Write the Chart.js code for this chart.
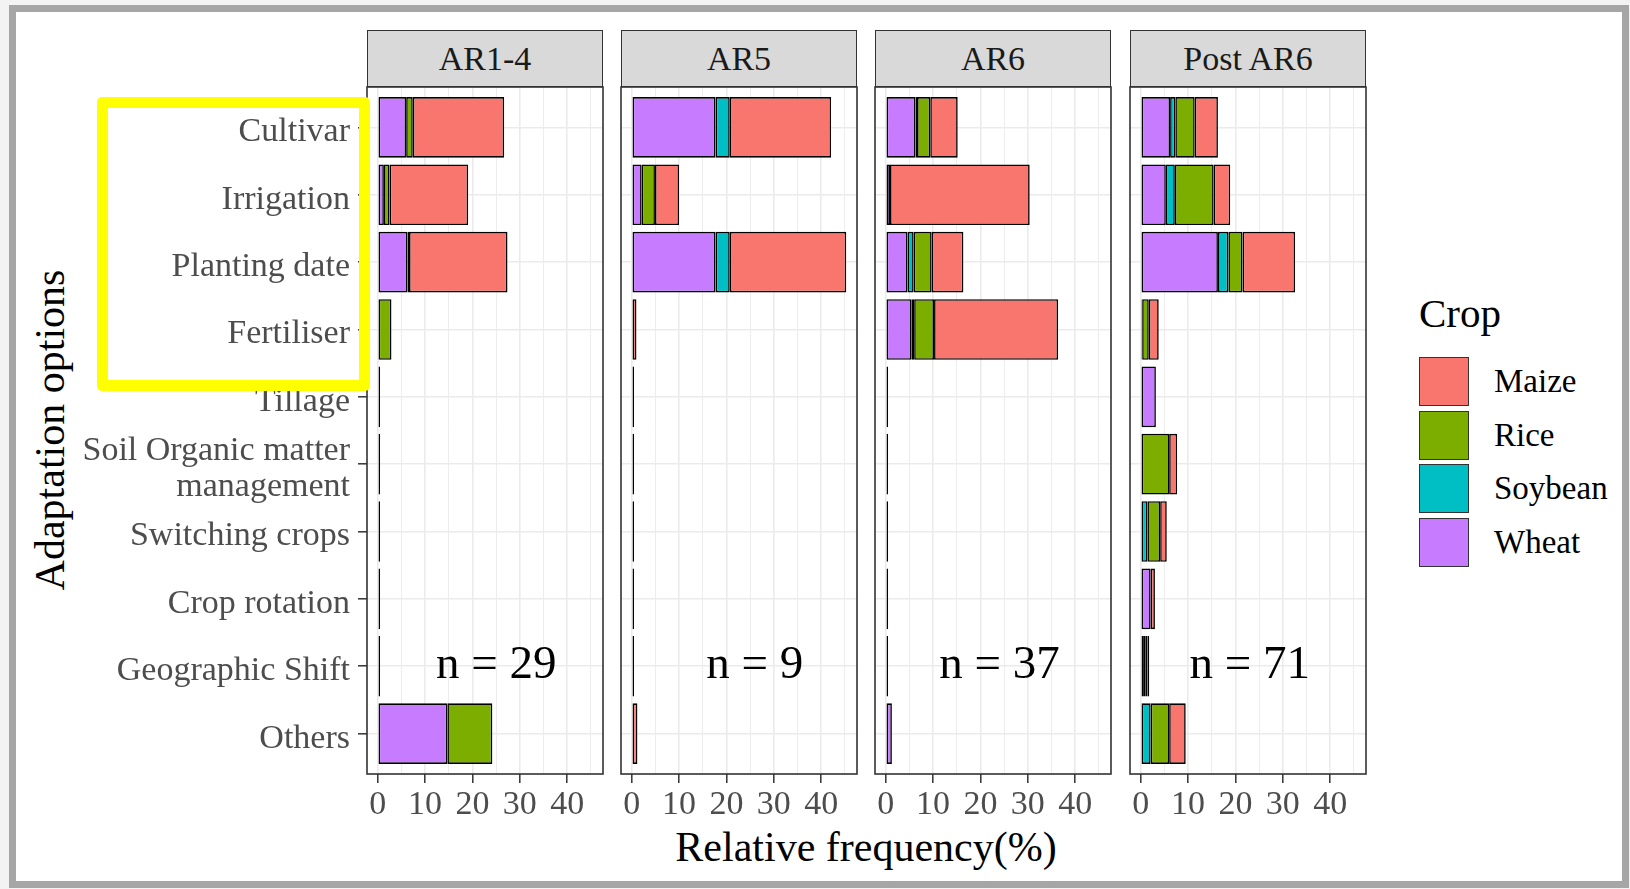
<!DOCTYPE html>
<html>
<head>
<meta charset="utf-8">
<script src="https://cdn.jsdelivr.net/npm/chart.js@4.4.1/dist/chart.umd.min.js"></script>
<style>
  body { margin: 0; width: 1630px; height: 889px; background: #f3f3f3; position: relative; overflow: hidden;
         font-family: 'Liberation Serif', 'Times New Roman', serif; }
  #frame { position: absolute; left: 9px; top: 5px; width: 1606px; height: 869px; border: 7px solid #a6a6a6; background: #fff; }
  .strip { position: absolute; top: 30px; height: 57px; background: #d9d9d9; border: 1.5px solid #333; box-sizing: border-box;
           font-size: 34px; color: #1a1a1a; display: flex; align-items: center; justify-content: center; }
  canvas { position: absolute; }
  #ytitle { position: absolute; left: -200px; top: 405px; width: 500px; height: 50px; line-height: 50px; text-align: center;
            font-size: 42px; color: #000; transform: rotate(-90deg); }
  #xtitle { position: absolute; left: 366px; top: 822px; width: 1000px; height: 50px; line-height: 50px; text-align: center;
            font-size: 42px; color: #000; }
  #highlight { position: absolute; left: 97px; top: 97px; width: 273px; height: 294px; border: 11px solid #ffff00;
               border-radius: 5px; box-sizing: border-box; z-index: 5; }
  .legTitle { position: absolute; left: 1419px; top: 293px; font-size: 41px; line-height: 41px; color: #000; }
  .key { position: absolute; left: 1419px; width: 50px; height: 49px; border: 1.5px solid #333; box-sizing: border-box; }
  .keyLabel { position: absolute; left: 1494px; height: 49px; line-height: 49px; font-size: 33px; color: #000; }
</style>
</head>
<body>
<div id="frame"></div>
<div id="ytitle">Adaptation options</div>
<div id="xtitle">Relative frequency(%)</div>
<div id="highlight"></div>

<script>
// categories (top to bottom)
const adaptOptions = ['Cultivar', 'Irrigation', 'Planting date', 'Fertiliser', 'Tillage',
  ['Soil Organic matter', 'management'], 'Switching crops', 'Crop rotation', 'Geographic Shift', 'Others'];

// facets
const periods = ['AR1-4', 'AR5', 'AR6', 'Post AR6'];
const sampleSizes = [29, 9, 37, 71];
const nLabelX = [25, 26, 24, 23];

// crops in stacking order (first sits at 0)
const crops = ['Wheat', 'Soybean', 'Rice', 'Maize'];
const cropColors = ['#C77CFF', '#00BFC4', '#7CAE00', '#F8766D'];

// relative frequency (%) per period, rows follow adaptOptions
const wheat = [
  [6.0, 1.3, 6.3, 0, 0.5, 0.5, 0.5, 0.5, 0.5, 14.7],
  [17.7, 2.1, 17.7, 0, 0.5, 0.5, 0.5, 0.5, 0.5, 0],
  [6.3, 0.9, 4.6, 5.4, 0.5, 0.5, 0.5, 0.5, 0.5, 1.3],
  [6.2, 5.3, 16.3, 0.3, 3.2, 0, 0, 2.1, 0.5, 0]
];
const soybean = [
  [0, 0, 0, 0, 0, 0, 0, 0, 0, 0],
  [3.0, 0, 3.0, 0, 0, 0, 0, 0, 0, 0],
  [0.3, 0, 1.3, 0.6, 0, 0, 0, 0, 0, 0],
  [1.1, 1.9, 2.2, 0, 0, 0, 1.4, 0, 0.45, 2.1]
];
const rice = [
  [1.4, 1.2, 0.3, 2.9, 0, 0, 0, 0, 0, 9.5],
  [0, 2.8, 0, 0, 0, 0, 0, 0, 0, 0],
  [2.8, 0, 3.8, 4.2, 0, 0, 0, 0, 0, 0],
  [4.1, 8.2, 3.0, 1.4, 0, 6.0, 2.7, 0, 0.45, 3.9]
];
const maize = [
  [19.3, 16.6, 20.8, 0, 0, 0, 0, 0, 0, 0],
  [21.4, 5.1, 24.6, 1.0, 0, 0, 0, 0, 0, 1.2],
  [5.8, 29.5, 6.7, 26.2, 0, 0, 0, 0, 0, 0],
  [4.9, 3.5, 11.1, 2.1, 0, 1.7, 1.4, 0.9, 0.4, 3.5]
];
const xTicks = [0, 5, 10, 15, 20, 25, 30, 35, 40, 45];

const cropData = [wheat, soybean, rice, maize];

// x range like ggplot: 5% expansion around 0..max total
let maxTotal = 0;
periods.forEach((p, i) => adaptOptions.forEach((o, r) => {
  maxTotal = Math.max(maxTotal, cropData.reduce((s, d) => s + d[i][r], 0));
}));
const xMin = -0.05 * maxTotal, xMax = 1.05 * maxTotal;

Chart.defaults.font.family = "'Liberation Serif', 'Times New Roman', serif";

// layout of the facets
const panelLeft = [367, 621, 875, 1130];
const panelW = 236, panelTop = 87, panelH = 687;
const pad = 6, xAxisH = 60, firstAxisW = 351;

const panelPlugin = {
  id: 'panel',
  afterDatasetsDraw(chart, args, opts) {
    const { ctx, chartArea: a, scales } = chart;
    ctx.save();
    ctx.font = "47px 'Liberation Serif'";
    ctx.fillStyle = '#000';
    ctx.textAlign = 'center';
    ctx.textBaseline = 'alphabetic';
    ctx.fillText('n = ' + opts.n, scales.x.getPixelForValue(opts.nx), scales.y.getPixelForValue(8) + 12);
    ctx.strokeStyle = '#333';
    ctx.lineWidth = 1.6;
    ctx.strokeRect(a.left, a.top, a.width, a.height);
    ctx.restore();
  }
};

periods.forEach((period, i) => {
  const first = i === 0;
  const yAxisW = first ? firstAxisW : 0;

  const strip = document.createElement('div');
  strip.className = 'strip';
  strip.style.left = panelLeft[i] + 'px';
  strip.style.width = panelW + 'px';
  strip.textContent = period;
  document.body.appendChild(strip);

  const canvas = document.createElement('canvas');
  canvas.width = yAxisW + panelW + 2 * pad;
  canvas.height = pad + panelH + xAxisH;
  canvas.style.left = (panelLeft[i] - yAxisW - pad) + 'px';
  canvas.style.top = (panelTop - pad) + 'px';
  document.body.appendChild(canvas);

  new Chart(canvas, {
    type: 'bar',
    data: {
      datasets: crops.map((c, k) => ({
        label: c,
        data: cropData[k][i].map((v, r) => ({ x: v, y: r })),
        backgroundColor: cropColors[k],
        borderColor: '#000',
        borderWidth: 1.6,
        borderSkipped: false,
        barPercentage: 0.9,
        categoryPercentage: 1
      }))
    },
    options: {
      indexAxis: 'y',
      responsive: false,
      animation: false,
      layout: { padding: { left: pad, right: pad, top: pad, bottom: 0 } },
      plugins: {
        legend: { display: false },
        tooltip: { enabled: false },
        panel: { n: sampleSizes[i], nx: nLabelX[i] }
      },
      scales: {
        x: {
          type: 'linear', stacked: true, min: xMin, max: xMax,
          afterBuildTicks: s => { s.ticks = xTicks.map(v => ({ value: v })); },
          afterFit: s => { s.height = xAxisH; s.paddingLeft = 0; s.paddingRight = 0; },
          ticks: {
            autoSkip: false, maxRotation: 0, padding: 2, color: '#4d4d4d',
            font: { size: 34 },
            callback: v => (v % 10 === 0 ? v : '')
          },
          grid: {
            color: '#ebebeb',
            lineWidth: c => (c.tick && c.tick.value % 10 === 0 ? 1.6 : 0.9),
            tickLength: 9,
            tickWidth: 1.5,
            tickColor: c => (c.tick && c.tick.value % 10 === 0 ? '#333' : 'rgba(0,0,0,0)')
          },
          border: { display: false }
        },
        y: {
          type: 'linear', stacked: true, reverse: true, offset: false,
          min: -0.6, max: adaptOptions.length - 0.4,
          afterBuildTicks: s => { s.ticks = adaptOptions.map((o, r) => ({ value: r })); },
          afterFit: s => { s.width = yAxisW; s.paddingTop = 0; s.paddingBottom = 0; },
          ticks: {
            display: first, autoSkip: false, padding: 8, labelOffset: 5, color: '#4d4d4d',
            font: { size: 34, lineHeight: 1.07 },
            callback: v => adaptOptions[v]
          },
          grid: { offset: false, color: '#ebebeb', lineWidth: 1.6, drawTicks: first, tickLength: 9, tickWidth: 1.5, tickColor: '#333' },
          border: { display: false }
        }
      }
    },
    plugins: [panelPlugin]
  });
});

// legend (ggplot order)
const leg = document.createElement('div');
leg.className = 'legTitle';
leg.textContent = 'Crop';
document.body.appendChild(leg);
crops.slice().reverse().forEach((c, j) => {
  const k = crops.indexOf(c);
  const top = 357 + j * 53.7;
  const key = document.createElement('div');
  key.className = 'key';
  key.style.top = top + 'px';
  key.style.background = cropColors[k];
  document.body.appendChild(key);
  const lab = document.createElement('div');
  lab.className = 'keyLabel';
  lab.style.top = top + 'px';
  lab.textContent = c;
  document.body.appendChild(lab);
});
</script>
</body>
</html>
